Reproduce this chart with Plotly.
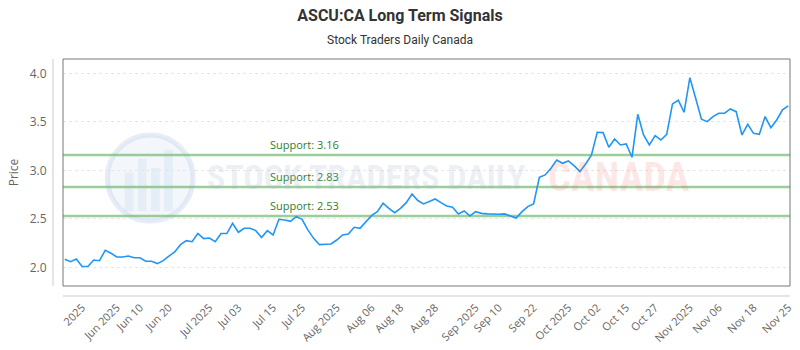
import plotly.graph_objects as go

title_text = "ASCU:CA Long Term Signals"
subtitle_text = "Stock Traders Daily Canada"

price = [
    2.085, 2.06, 2.088, 2.01, 2.01, 2.077, 2.07, 2.177, 2.146, 2.108,
    2.108, 2.118, 2.10, 2.10, 2.064, 2.064, 2.04, 2.07, 2.118, 2.16,
    2.235, 2.276, 2.266, 2.35, 2.297, 2.304, 2.266, 2.35, 2.35, 2.456,
    2.363, 2.404, 2.404, 2.38, 2.31, 2.38, 2.335, 2.497, 2.49, 2.476,
    2.524, 2.497, 2.387, 2.30, 2.235, 2.24, 2.242, 2.283, 2.335, 2.345,
    2.414, 2.404, 2.472, 2.534, 2.575, 2.662, 2.61, 2.565, 2.61, 2.668,
    2.758, 2.69, 2.655, 2.678, 2.706, 2.668, 2.634, 2.62, 2.552, 2.582,
    2.531, 2.575, 2.558, 2.552, 2.548, 2.548, 2.552, 2.531, 2.51, 2.575,
    2.627, 2.655, 2.93, 2.954, 3.023, 3.108, 3.074, 3.098, 3.05, 2.988,
    3.067, 3.16, 3.394, 3.39, 3.239, 3.325, 3.263, 3.273, 3.136, 3.579,
    3.366, 3.263, 3.359, 3.314, 3.373, 3.686, 3.724, 3.60, 3.957, 3.744,
    3.528, 3.503, 3.555, 3.59, 3.59, 3.634, 3.606, 3.366, 3.476, 3.383,
    3.373, 3.555, 3.441, 3.52, 3.624, 3.665,
]

tick_index = [3, 9, 13, 18, 25, 30, 36, 41, 47, 53, 58, 64, 71, 75, 81, 87,
              92, 97, 102, 108, 113, 119, 125]
tick_labels = ["2025", "Jun 2025", "Jun 10", "Jun 20", "Jul 2025", "Jul 03",
               "Jul 15", "Jul 25", "Aug 2025", "Aug 06", "Aug 18", "Aug 28",
               "Sep 2025", "Sep 10", "Sep 22", "Oct 2025", "Oct 02", "Oct 15",
               "Oct 27", "Nov 2025", "Nov 06", "Nov 18", "Nov 25"]

support_levels = [3.16, 2.83, 2.53]
y_ticks = [2.0, 2.5, 3.0, 3.5, 4.0]

point_index = list(range(len(price)))

fig = go.Figure()
fig.add_trace(go.Scatter(
    x=point_index, y=price, mode="lines",
    line=dict(color="#2196f3", width=1.6),
    hoverinfo="skip", showlegend=False,
))

shapes = []
# watermark logo (faint)
shapes.append(dict(type="circle", xref="paper", yref="paper",
                   x0=0.061, x1=0.179, y0=0.286, y1=0.665, layer="below",
                   fillcolor="rgba(215,226,242,0.30)",
                   line=dict(color="rgba(200,214,236,0.45)", width=5)))
for bx0, bx1, by1 in [(0.085, 0.097, 0.50), (0.103, 0.115, 0.56),
                      (0.121, 0.133, 0.52), (0.139, 0.151, 0.60)]:
    shapes.append(dict(type="rect", xref="paper", yref="paper",
                       x0=bx0, x1=bx1, y0=0.33, y1=by1, layer="below",
                       fillcolor="rgba(200,214,236,0.30)", line=dict(width=0)))

# support lines
for lvl in support_levels:
    shapes.append(dict(type="line", xref="paper", yref="y",
                       x0=0, x1=1, y0=lvl, y1=lvl, layer="between",
                       line=dict(color="rgba(120,190,120,0.75)", width=2.5)))

# plot border
shapes.append(dict(type="rect", xref="paper", yref="paper", x0=0, x1=1, y0=0, y1=1,
                   layer="above", line=dict(color="#777777", width=1)))
# offset axis lines
shapes.append(dict(type="line", xref="paper", yref="paper", x0=-0.0138, x1=-0.0138,
                   y0=0, y1=1, line=dict(color="#cccccc", width=1)))
shapes.append(dict(type="line", xref="paper", yref="paper", x0=0, x1=1,
                   y0=-0.044, y1=-0.044, line=dict(color="#cccccc", width=1)))

annotations = []
for lvl in support_levels:
    annotations.append(dict(
        x=0.282, xref="paper", y=lvl, yref="y", xanchor="left", yanchor="bottom",
        text=f"Support: {lvl:.2f}", showarrow=False, yshift=1,
        font=dict(family="Open Sans, sans-serif", size=11, color="#2e7d32"),
    ))

wm_font = "Liberation Sans Narrow, Roboto Condensed, DejaVu Sans Condensed, Liberation Sans, sans-serif"
annotations.append(dict(
    x=0.1953, xref="paper", y=0.478, yref="paper", xanchor="left", yanchor="middle",
    text="<b>STOCK TRADERS DAILY</b>", showarrow=False,
    font=dict(family=wm_font, size=34, color="rgba(170,182,205,0.22)"),
))
annotations.append(dict(
    x=0.664, xref="paper", y=0.478, yref="paper", xanchor="left", yanchor="middle",
    text="<b>CANADA</b>", showarrow=False,
    font=dict(family=wm_font, size=40, color="rgba(240,100,100,0.16)"),
))
annotations.append(dict(
    x=0.5, xref="paper", y=1.0837, yref="paper", xanchor="center", yanchor="middle",
    xshift=400 - (63 + 727 / 2),
    text=subtitle_text, showarrow=False,
    font=dict(family="Roboto, sans-serif", size=12, color="#333333"),
))

fig.update_layout(
    width=800, height=350, autosize=False,
    margin=dict(l=63, r=10, t=59, b=64),
    paper_bgcolor="white", plot_bgcolor="white",
    title=dict(text=f"<b>{title_text}</b>", x=0.5, xref="container", xanchor="center",
               y=1 - 15 / 350, yref="container", yanchor="middle",
               font=dict(family="Roboto, sans-serif", size=16, color="#333333")),
    xaxis=dict(range=[-0.3, len(price) - 1 + 0.3], showgrid=False, zeroline=False,
               automargin=False,
               showline=False, tickmode="array", tickvals=tick_index, ticktext=tick_labels,
               tickangle=-45, ticks="outside", ticklen=10, tickcolor="rgba(0,0,0,0)",
               tickfont=dict(family="Open Sans, sans-serif", size=11, color="#666666")),
    yaxis=dict(range=[1.809, 4.149], tickmode="array", tickvals=y_ticks,
               automargin=False,
               tickformat=".1f", showgrid=True, gridcolor="#e6e6e6", griddash="dot",
               zeroline=False, showline=False, ticks="outside", ticklen=13,
               tickcolor="rgba(0,0,0,0)",
               tickfont=dict(family="Open Sans, sans-serif", size=12, color="#666666"),
               title=dict(text="Price", standoff=8,
                          font=dict(family="Open Sans, sans-serif", size=12, color="#666666"))),
    shapes=shapes, annotations=annotations,
)

fig.write_html("out.html")
